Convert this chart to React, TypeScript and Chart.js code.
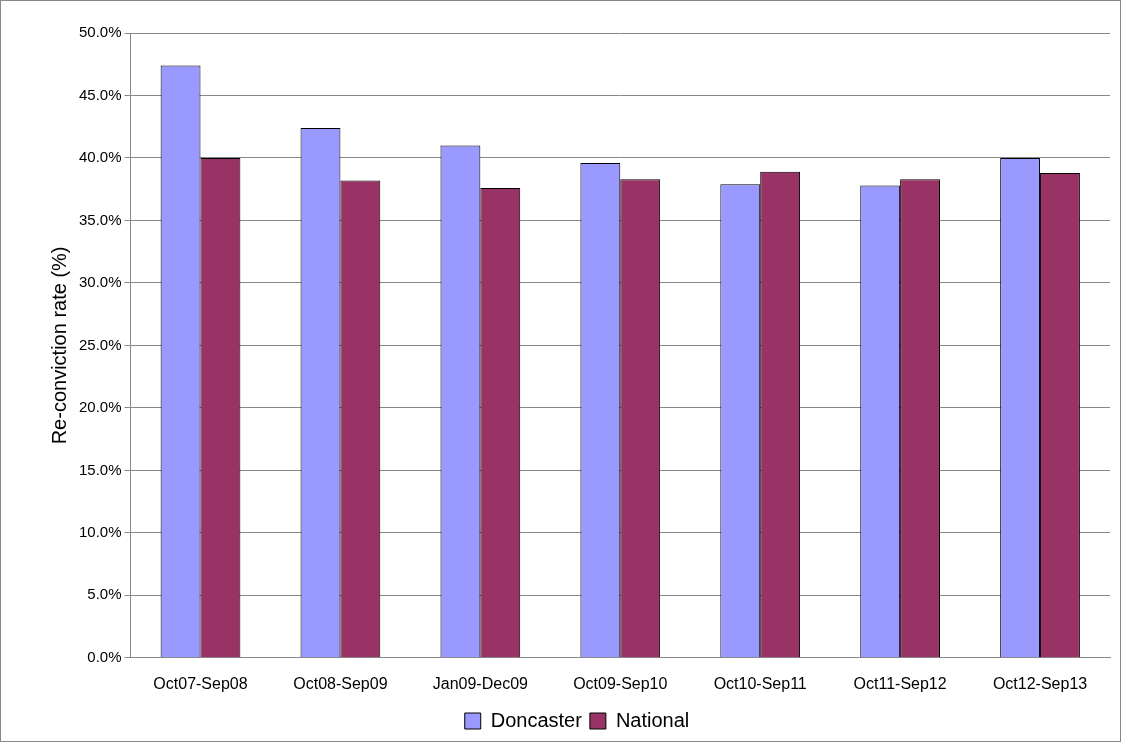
import React, { useEffect, useRef } from 'react';
import { Chart, registerables } from 'chart.js';

Chart.register(...registerables);

const periods = ['Oct07-Sep08', 'Oct08-Sep09', 'Jan09-Dec09', 'Oct09-Sep10', 'Oct10-Sep11', 'Oct11-Sep12', 'Oct12-Sep13'];
const doncaster = [47.4, 42.4, 41.0, 39.6, 37.9, 37.8, 40.0];
const national = [40.0, 38.2, 37.6, 38.3, 38.9, 38.3, 38.8];

const App = () => {
  const canvasRef = useRef<HTMLCanvasElement | null>(null);

  useEffect(() => {
    document.body.style.margin = '0';
    if (!canvasRef.current) return;
    const font = 'Liberation Sans, Arial, sans-serif';
    const chart = new Chart(canvasRef.current, {
      type: 'bar',
      data: {
        labels: periods,
        datasets: [
          { label: 'Doncaster', data: doncaster, backgroundColor: '#9999FF', borderColor: '#000', borderWidth: 1 },
          { label: 'National', data: national, backgroundColor: '#993366', borderColor: '#000', borderWidth: 1 },
        ],
      },
      options: {
        responsive: false,
        animation: false,
        layout: { padding: { top: 32, right: 10, left: 43, bottom: 0 } },
        datasets: { bar: { barPercentage: 1, categoryPercentage: 0.57 } },
        plugins: {
          tooltip: { enabled: false },
          legend: {
            position: 'bottom',
            labels: { font: { family: font, size: 20 }, color: '#000', boxWidth: 16, boxHeight: 16, padding: 8 },
          },
        },
        scales: {
          x: {
            grid: { display: false },
            border: { color: '#888' },
            ticks: { font: { family: font, size: 16 }, color: '#000', maxRotation: 0, padding: 9 },
          },
          y: {
            min: 0,
            max: 50,
            ticks: { stepSize: 5, font: { family: font, size: 15 }, color: '#000', callback: (v) => Number(v).toFixed(1) + '%' },
            grid: { color: '#888', tickLength: 6 },
            border: { color: '#888' },
            title: { display: true, text: 'Re-conviction rate (%)', font: { family: font, size: 20 }, color: '#000' },
          },
        },
      },
    });
    return () => chart.destroy();
  }, []);

  return (
    <div style={{ width: 1119, height: 740, border: '1px solid #888' }}>
      <canvas ref={canvasRef} width={1119} height={740}></canvas>
    </div>
  );
};

export default App;
